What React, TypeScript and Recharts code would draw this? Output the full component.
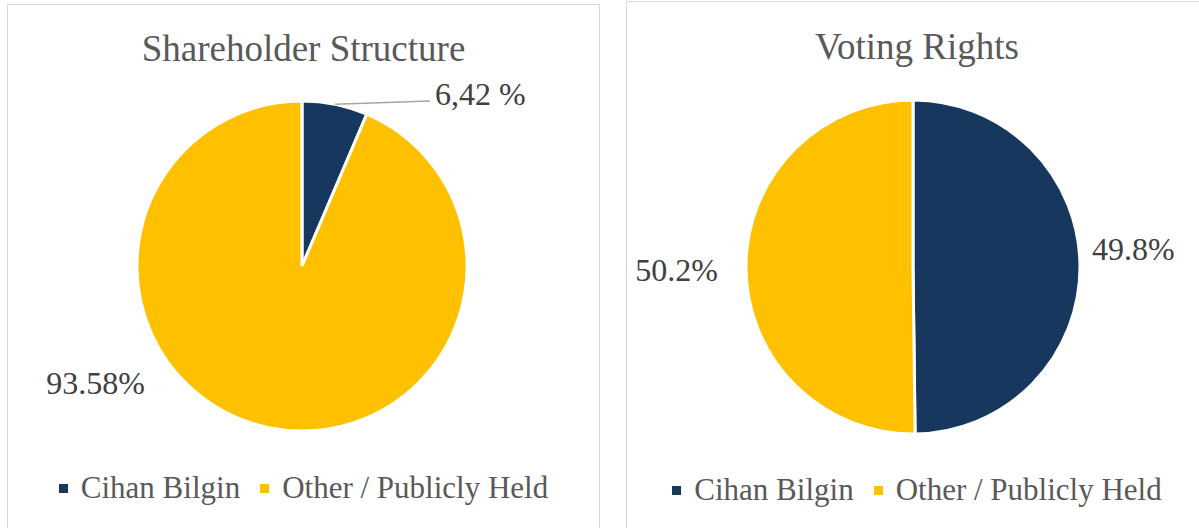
import React from 'react';
import { PieChart, Pie, Cell, Legend } from 'recharts';

const holders = ['Cihan Bilgin', 'Other / Publicly Held'];
const shareValues = [6.42, 93.58];
const shareLabels = ['6,42 %', '93.58%'];
const votingValues = [49.8, 50.2];
const votingLabels = ['49.8%', '50.2%'];

const COLORS = ['#17375E', '#FFC000'];
const FONT = '"Times New Roman", Times, "Liberation Serif", "Noto Serif", "DejaVu Serif", Georgia, serif';
const RAD = Math.PI / 180;

type LabelSpot = { dx: number; dy: number; anchor: 'start' | 'end'; leader?: boolean };

const shareSpots: LabelSpot[] = [
  { dx: 133, dy: -172, anchor: 'start', leader: true },
  { dx: -157, dy: 117, anchor: 'end' },
];
const votingSpots: LabelSpot[] = [
  { dx: 179, dy: -18, anchor: 'start' },
  { dx: -195, dy: 3, anchor: 'end' },
];

const makeLabel = (texts: string[], spots: LabelSpot[]) => (props: any) => {
  const { cx, cy, midAngle, outerRadius, index } = props;
  const spot = spots[index];
  const tx = cx + spot.dx;
  const ty = cy + spot.dy;
  let leader = null;
  if (spot.leader) {
    const sx = cx + outerRadius * Math.cos(-midAngle * RAD);
    const sy = cy + outerRadius * Math.sin(-midAngle * RAD);
    leader = <line x1={sx} y1={sy} x2={tx - 5} y2={ty + 7} stroke="#A6A6A6" strokeWidth={1.5} />;
  }
  return (
    <g key={`lbl-${index}`}>
      {leader}
      <text
        x={tx}
        y={ty}
        textAnchor={spot.anchor}
        dominantBaseline="central"
        fill="#404040"
        fontFamily={FONT}
        fontSize={32}
      >
        {texts[index]}
      </text>
    </g>
  );
};

const LegendBox = () => (
  <div style={{ display: 'flex', justifyContent: 'center', alignItems: 'center', gap: 20 }}>
    {holders.map((h, i) => (
      <div key={h} style={{ display: 'flex', alignItems: 'center', gap: 13 }}>
        <span style={{ width: 9, height: 9, background: COLORS[i], display: 'inline-block' }} />
        <span style={{ fontFamily: FONT, fontSize: 31, color: '#595959', lineHeight: '36px' }}>{h}</span>
      </div>
    ))}
  </div>
);

interface PanelProps {
  title: string;
  values: number[];
  labels: string[];
  spots: LabelSpot[];
  left: number;
  top: number;
  width: number;
  cx: number;
  cy: number;
  r: number;
  titleY: number;
  legendY: number;
}

const Panel: React.FC<PanelProps> = ({ title, values, labels, spots, left, top, width, cx, cy, r, titleY, legendY }) => {
  const data = holders.map((name, i) => ({ name, value: values[i] }));
  return (
    <div
      style={{
        position: 'absolute',
        left,
        top,
        width,
        height: 560,
        border: '1px solid #D9D9D9',
        background: '#fff',
      }}
    >
      <div
        style={{
          position: 'absolute',
          left: 0,
          width: '100%',
          top: titleY - 22,
          textAlign: 'center',
          fontFamily: FONT,
          fontSize: 37,
          color: '#595959',
          lineHeight: '44px',
        }}
      >
        {title}
      </div>
      <div style={{ position: 'absolute', left: 0, top: 0 }}>
        <PieChart width={width} height={524} margin={{ top: 0, right: 0, bottom: 0, left: 0 }}>
          <Pie
            data={data}
            dataKey="value"
            nameKey="name"
            cx={cx}
            cy={cy}
            outerRadius={r}
            startAngle={90}
            endAngle={-270}
            stroke="#FFFFFF"
            strokeWidth={3}
            label={makeLabel(labels, spots)}
            labelLine={false}
            isAnimationActive={false}
          >
            {data.map((d, i) => (
              <Cell key={d.name} fill={COLORS[i]} />
            ))}
          </Pie>
          <Legend
            content={() => <LegendBox />}
            wrapperStyle={{ position: 'absolute', left: 0, width: width, top: legendY - 18 }}
          />
        </PieChart>
      </div>
    </div>
  );
};

export default function App() {
  return (
    <div
      style={{
        position: 'fixed',
        left: 0,
        top: 0,
        width: 1199,
        height: 528,
        background: '#fff',
        overflow: 'hidden',
      }}
    >
      <Panel
        title="Shareholder Structure"
        values={shareValues}
        labels={shareLabels}
        spots={shareSpots}
        left={7}
        top={4}
        width={591}
        cx={294}
        cy={261}
        r={165}
        titleY={44}
        legendY={483}
      />
      <Panel
        title="Voting Rights"
        values={votingValues}
        labels={votingLabels}
        spots={votingSpots}
        left={626}
        top={1}
        width={580}
        cx={286}
        cy={265}
        r={167}
        titleY={45}
        legendY={488}
      />
    </div>
  );
}
